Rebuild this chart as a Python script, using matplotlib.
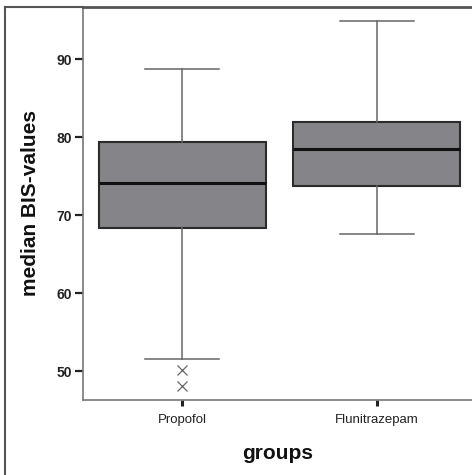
import matplotlib.pyplot as plt
from matplotlib.lines import Line2D

# box plot summary
groups = ["Propofol", "Flunitrazepam"]
medians = [74.1, 78.5]
q1 = [68.3, 73.8]
q3 = [79.4, 81.9]
whisk_lo = [51.5, 67.6]
whisk_hi = [88.7, 94.9]
outliers = [[50.1, 48.1], []]
yticks = [50, 60, 70, 80, 90]

plt.rcParams['font.family'] = ['Liberation Sans', 'DejaVu Sans']

fig = plt.figure(figsize=(4.72, 4.75), dpi=100)
ax = fig.add_axes([83 / 472, 1 - 400 / 475, 1 - 83 / 472, 393 / 475])

stats = []
for i in range(len(groups)):
    stats.append({'label': groups[i], 'med': medians[i], 'q1': q1[i], 'q3': q3[i],
                  'whislo': whisk_lo[i], 'whishi': whisk_hi[i], 'fliers': outliers[i]})

ax.bxp(stats, positions=[1, 2], widths=0.86, patch_artist=True,
       boxprops=dict(facecolor='#858589', edgecolor='#2b2b2b', linewidth=1.5),
       medianprops=dict(color='#111111', linewidth=2.2),
       whiskerprops=dict(color='#666666', linewidth=1.1),
       capprops=dict(color='#666666', linewidth=1.1),
       capwidths=0.38,
       flierprops=dict(marker='x', markeredgecolor='#666666', markersize=7, markeredgewidth=0.9))

ax.set_xlim(0.49, 2.49)
ax.set_ylim(46.3, 96.7)
ax.set_yticks(yticks)
ax.set_yticklabels([str(v) for v in yticks], fontweight='bold', fontsize=10, color='#222222')
ax.set_xticks([1, 2])
ax.set_xticklabels(groups, fontsize=9.5, color='#222222')
ax.tick_params(axis='y', length=6, width=1.6, color='#222222', pad=2)
ax.tick_params(axis='x', length=4, width=2.2, color='#222222', pad=6)

for s in ['left', 'bottom', 'top']:
    ax.spines[s].set_color('#777777')
    ax.spines[s].set_linewidth(1.2)
ax.spines['top'].set_color('#555555')
ax.spines['top'].set_linewidth(2.0)
ax.spines['right'].set_visible(False)

ax.set_ylabel("median BIS-values", fontsize=15, fontweight='bold', labelpad=12, color='#111111')
ax.set_xlabel("groups", fontsize=15, fontweight='bold', labelpad=13, color='#111111')

# outer frame, left and top only
fig.add_artist(Line2D([5 / 472, 5 / 472], [0, 1 - 7 / 475], transform=fig.transFigure,
                      color='#555555', linewidth=1.5))
fig.add_artist(Line2D([5 / 472, 83 / 472], [1 - 7 / 475, 1 - 7 / 475], transform=fig.transFigure,
                      color='#555555', linewidth=1.5))

fig.savefig("out.png", dpi=100)
